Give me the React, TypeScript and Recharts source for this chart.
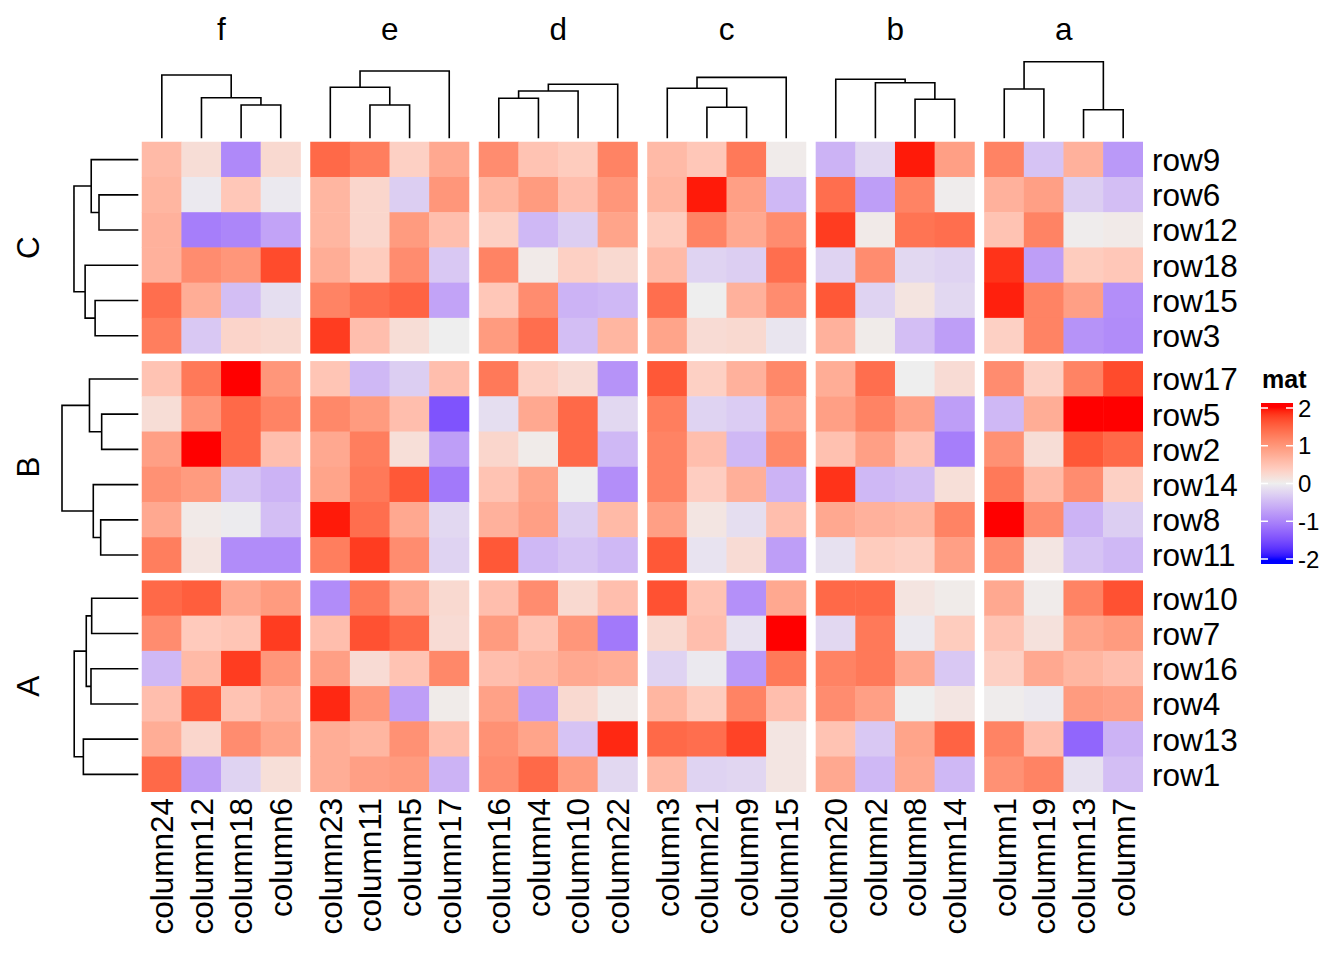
import React from 'react';
import { ComposedChart, Scatter, Line, XAxis, YAxis } from 'recharts';

// ---------------- data ----------------
const columnGroups = ['f', 'e', 'd', 'c', 'b', 'a'];
const columnLabels = [
  ['column24', 'column12', 'column18', 'column6'],
  ['column23', 'column11', 'column5', 'column17'],
  ['column16', 'column4', 'column10', 'column22'],
  ['column3', 'column21', 'column9', 'column15'],
  ['column20', 'column2', 'column8', 'column14'],
  ['column1', 'column19', 'column13', 'column7'],
];
const rowGroups = ['C', 'B', 'A'];
const rowLabels = [
  ['row9', 'row6', 'row12', 'row18', 'row15', 'row3'],
  ['row17', 'row5', 'row2', 'row14', 'row8', 'row11'],
  ['row10', 'row7', 'row16', 'row4', 'row13', 'row1'],
];

// values in display order (columns as in columnLabels, flattened)
const valuesC = [
  [0.6, 0.2, -0.95, 0.25, 1.45, 1.25, 0.35, 0.8, 1.1, 0.5, 0.4, 1.2, 0.6, 0.45, 1.3, 0.03, -0.55, -0.2, 1.95, 0.9, 1.2, -0.4, 0.7, -0.8],
  [0.65, -0.05, 0.45, -0.05, 0.65, 0.28, -0.3, 1.0, 0.65, 0.95, 0.55, 1.0, 0.65, 1.95, 0.9, -0.5, 1.4, -0.75, 1.2, 0.02, 0.7, 0.9, -0.3, -0.45],
  [0.7, -1.05, -0.98, -0.7, 0.65, 0.28, 0.95, 0.55, 0.35, -0.5, -0.3, 0.85, 0.4, 1.2, 0.8, 1.1, 1.8, 0.05, 1.35, 1.4, 0.5, 1.2, 0.02, 0.05],
  [0.7, 1.1, 1.0, 1.7, 0.75, 0.4, 1.1, -0.35, 1.2, 0.05, 0.35, 0.25, 0.6, -0.25, -0.3, 1.4, -0.25, 1.1, -0.2, -0.25, 1.85, -0.75, 0.4, 0.45],
  [1.4, 0.75, -0.45, -0.15, 1.2, 1.4, 1.5, -0.7, 0.45, 1.1, -0.55, -0.5, 1.4, 0.0, 0.7, 1.1, 1.6, -0.25, 0.12, -0.2, 1.93, 1.2, 0.9, -0.9],
  [1.25, -0.35, 0.3, 0.25, 1.8, 0.55, 0.2, 0.0, 0.95, 1.4, -0.45, 0.65, 0.85, 0.22, 0.25, -0.08, 0.7, 0.04, -0.45, -0.75, 0.35, 1.2, -0.85, -0.92],
];
const valuesB = [
  [0.5, 1.3, 2.2, 1.0, 0.48, -0.5, -0.3, 0.55, 1.3, 0.35, 0.22, -0.85, 1.6, 0.35, 0.7, 1.15, 0.75, 1.4, 0.0, 0.22, 1.1, 0.35, 1.2, 1.7],
  [0.2, 1.0, 1.45, 1.2, 1.15, 0.95, 0.55, -1.45, -0.15, 0.8, 1.45, -0.2, 1.25, -0.25, -0.32, 0.9, 0.9, 1.2, 0.88, -0.75, -0.5, 0.75, 2.2, 2.2],
  [0.9, 2.2, 1.45, 0.55, 0.8, 1.25, 0.18, -0.75, 0.28, 0.04, 1.45, -0.5, 1.2, 0.55, -0.5, 1.15, 0.52, 0.9, 0.5, -1.05, 1.05, 0.2, 1.6, 1.45],
  [1.05, 0.95, -0.4, -0.55, 0.85, 1.3, 1.6, -1.1, 0.5, 0.85, 0.0, -0.9, 1.2, 0.38, 0.72, -0.55, 1.85, -0.5, -0.45, 0.18, 1.3, 0.6, 1.1, 0.35],
  [0.8, 0.05, -0.03, -0.45, 1.95, 1.4, 0.8, -0.2, 0.7, 0.9, -0.3, 0.6, 0.9, 0.1, -0.15, 0.55, 0.8, 0.7, 0.65, 1.2, 2.2, 1.1, -0.55, -0.3],
  [1.25, 0.12, -0.92, -0.92, 1.25, 1.8, 1.1, -0.25, 1.6, -0.5, -0.4, -0.5, 1.6, -0.1, 0.22, -0.75, -0.12, 0.4, 0.35, 0.9, 1.1, 0.1, -0.4, -0.5],
];
const valuesA = [
  [1.45, 1.55, 0.8, 0.95, -0.92, 1.3, 0.8, 0.25, 0.55, 1.1, 0.25, 0.55, 1.65, 0.5, -0.88, 0.8, 1.45, 1.45, 0.12, 0.04, 0.8, 0.03, 1.2, 1.65],
  [1.1, 0.42, 0.48, 1.8, 0.55, 1.65, 1.45, 0.22, 0.95, 0.5, 1.0, -1.1, 0.25, 0.55, -0.12, 2.2, -0.2, 1.3, -0.05, 0.4, 0.5, 0.15, 0.85, 0.95],
  [-0.5, 0.6, 1.8, 1.0, 0.9, 0.22, 0.5, 1.15, 0.55, 0.65, 0.8, 0.75, -0.25, -0.05, -0.8, 1.3, 1.2, 1.3, 0.8, -0.35, 0.35, 0.8, 0.65, 0.55],
  [0.55, 1.6, 0.5, 0.7, 1.9, 1.0, -0.75, 0.04, 0.88, -0.75, 0.25, 0.05, 0.65, 0.4, 1.2, 0.55, 1.1, 0.9, 0.0, 0.1, 0.02, -0.05, 0.95, 0.9],
  [0.75, 0.28, 1.1, 0.85, 0.75, 0.65, 1.05, 0.55, 1.05, 0.85, -0.4, 1.9, 1.45, 1.4, 1.75, 0.1, 0.5, -0.35, 0.85, 1.5, 1.2, 0.55, -1.28, -0.55],
  [1.45, -0.75, -0.25, 0.18, 0.75, 0.9, 0.95, -0.55, 1.1, 1.45, 0.95, -0.2, 0.6, -0.25, -0.22, 0.1, 0.8, -0.5, 0.8, -0.5, 1.05, 1.2, -0.12, -0.45],
];
const valuesByGroup = [valuesC, valuesB, valuesA];

// dendrogram merges: [left node, right node, height]; leaves 0..n-1, merge k -> node n+k
const columnMerges = [
  [[2, 3, 0.435], [1, 4, 0.53], [0, 5, 0.826]],
  [[1, 2, 0.435], [0, 4, 0.666], [5, 3, 0.879]],
  [[0, 1, 0.522], [4, 2, 0.617], [5, 3, 0.705]],
  [[1, 2, 0.405], [0, 4, 0.653], [5, 3, 0.796]],
  [[2, 3, 0.509], [1, 4, 0.726], [0, 5, 0.77]],
  [[0, 1, 0.644], [2, 3, 0.373], [4, 5, 1.0]],
];
const rowMerges = [
  [[1, 2, 0.515], [0, 6, 0.617], [4, 5, 0.566], [3, 8, 0.697], [7, 9, 0.843]],
  [[1, 2, 0.48], [0, 6, 0.64], [4, 5, 0.493], [3, 8, 0.59], [7, 9, 1.0]],
  [[0, 1, 0.611], [2, 3, 0.62], [6, 7, 0.682], [4, 5, 0.72], [8, 9, 0.84]],
];

const legendTicks = [2, 1, 0, -1, -2];

// ---------------- layout ----------------
const W = 1344;
const H = 960;
const PLOT_LEFT = 56;
const HEAT_LEFT = 142;
const HEAT_RIGHT = 1143;
const PLOT_TOP = 50;
const HEAT_TOP = 142;
const HEAT_BOTTOM = 792;
const GAPX = 0.25;
const GAPY = 8 / 35.22;
const NX = 24 + 5 * GAPX;
const NY = 18 + 2 * GAPY;
const PXX = (HEAT_RIGHT - HEAT_LEFT) / NX;
const PXY = (HEAT_BOTTOM - HEAT_TOP) / NY;
const XMIN = -(HEAT_LEFT - PLOT_LEFT) / PXX;
const XMAX = NX;
const YMIN = -(HEAT_TOP - PLOT_TOP) / PXY;
const YMAX = NY;
const COL_BASE = -3.7 / PXY;
const COL_SCALE = (138.3 - 61.7) / PXY;
const ROW_BASE = -3.7 / PXX;
const ROW_SCALE = 76.3 / PXX;
const FS = 31.5;
const FONT = '"Liberation Sans", Arial, Helvetica, sans-serif';

const colX = (g: number, j: number) => g * (4 + GAPX) + j + 0.5;
const rowY = (g: number, i: number) => g * (6 + GAPY) + i + 0.5;

// ---------------- colour ramp (LAB) ----------------
const toLin = (c: number) => {
  const s = c / 255;
  return s <= 0.04045 ? s / 12.92 : Math.pow((s + 0.055) / 1.055, 2.4);
};
const fromLin = (c: number) => {
  const v = c <= 0.0031308 ? 12.92 * c : 1.055 * Math.pow(c, 1 / 2.4) - 0.055;
  return Math.round(Math.max(0, Math.min(1, v)) * 255);
};
const rgbToLab = (r: number, g: number, b: number) => {
  const R = toLin(r), G = toLin(g), B = toLin(b);
  const X = (0.4124 * R + 0.3576 * G + 0.1805 * B) / 0.95047;
  const Y = 0.2126 * R + 0.7152 * G + 0.0722 * B;
  const Z = (0.0193 * R + 0.1192 * G + 0.9505 * B) / 1.08883;
  const f = (t: number) => (t > 0.008856 ? Math.cbrt(t) : 7.787 * t + 16 / 116);
  const fx = f(X), fy = f(Y), fz = f(Z);
  return [116 * fy - 16, 500 * (fx - fy), 200 * (fy - fz)];
};
const labToHex = (L: number, a: number, b: number) => {
  const fy = (L + 16) / 116;
  const fx = fy + a / 500;
  const fz = fy - b / 200;
  const inv = (t: number) => (t * t * t > 0.008856 ? t * t * t : (t - 16 / 116) / 7.787);
  const X = inv(fx) * 0.95047, Y = inv(fy), Z = inv(fz) * 1.08883;
  const R = 3.2406 * X - 1.5372 * Y - 0.4986 * Z;
  const G = -0.9689 * X + 1.8758 * Y + 0.0415 * Z;
  const B = 0.0557 * X - 0.204 * Y + 1.057 * Z;
  const h = (v: number) => fromLin(v).toString(16).padStart(2, '0');
  return '#' + h(R) + h(G) + h(B);
};
const LAB_BLUE = rgbToLab(0, 0, 255);
const LAB_MID = rgbToLab(238, 238, 238);
const LAB_RED = rgbToLab(255, 0, 0);
const colorOf = (v: number) => {
  const c = Math.max(-2, Math.min(2, v));
  const [a, b, t] = c < 0 ? [LAB_BLUE, LAB_MID, (c + 2) / 2] : [LAB_MID, LAB_RED, c / 2];
  return labToHex(a[0] + (b[0] - a[0]) * t, a[1] + (b[1] - a[1]) * t, a[2] + (b[2] - a[2]) * t);
};

// ---------------- derived series ----------------
const cells: { x: number; y: number; v: number }[] = [];
valuesByGroup.forEach((rows, g) =>
  rows.forEach((vals, i) =>
    vals.forEach((v, c) => {
      cells.push({ x: colX(Math.floor(c / 4), c % 4), y: rowY(g, i), v });
    })
  )
);

const buildDendro = (merges: number[][], leaves: number[], kind: 'col' | 'row') => {
  const pos = [...leaves];
  const ht = leaves.map(() => 0);
  const pts: { x: number; y: number | null }[] = [];
  const mk = (p: number, h: number) =>
    kind === 'col' ? { x: p, y: COL_BASE - h * COL_SCALE } : { x: ROW_BASE - h * ROW_SCALE, y: p };
  merges.forEach(([a, b, h]) => {
    pts.push(mk(pos[a], ht[a]), mk(pos[a], h), mk(pos[b], h), mk(pos[b], ht[b]));
    pts.push({ x: kind === 'col' ? pos[b] : ROW_BASE, y: null });
    pos.push((pos[a] + pos[b]) / 2);
    ht.push(h);
  });
  return pts;
};

const colDendros = columnMerges.map((m, g) => buildDendro(m, [0, 1, 2, 3].map((j) => colX(g, j)), 'col'));
const rowDendros = rowMerges.map((m, g) => buildDendro(m, [0, 1, 2, 3, 4, 5].map((i) => rowY(g, i)), 'row'));

const colTicks = columnLabels.flatMap((grp, g) => grp.map((_, j) => colX(g, j)));
const colTickLabels = columnLabels.flat();
const rowTicks = rowLabels.flatMap((grp, g) => grp.map((_, i) => rowY(g, i)));
const rowTickLabels = rowLabels.flat();
const colGroupTicks = columnGroups.map((_, g) => g * (4 + GAPX) + 2);
const rowGroupTicks = rowGroups.map((_, g) => g * (6 + GAPY) + 3);

// ---------------- renderers ----------------
const renderCell = (p: any) => {
  const w = PXX + 0.5;
  const h = PXY + 0.5;
  return <rect x={p.cx - w / 2} y={p.cy - h / 2} width={w} height={h} fill={colorOf(p.payload.v)} stroke="none" />;
};

const BottomTick = (p: any) => {
  const bx = p.x + 0.36 * FS;
  const by = HEAT_BOTTOM + 6;
  return (
    <text x={bx} y={by} transform={`rotate(-90 ${bx} ${by})`} textAnchor="end" fontSize={FS} fontFamily={FONT} fill="#000">
      {colTickLabels[p.index]}
    </text>
  );
};
const RightTick = (p: any) => (
  <text x={HEAT_RIGHT + 9} y={p.y + 0.36 * FS} textAnchor="start" fontSize={FS} fontFamily={FONT} fill="#000">
    {rowTickLabels[p.index]}
  </text>
);
const TopTick = (p: any) => (
  <text x={p.x} y={40} textAnchor="middle" fontSize={FS} fontFamily={FONT} fill="#000">
    {columnGroups[p.index]}
  </text>
);
const LeftTick = (p: any) => (
  <text x={39} y={p.y} transform={`rotate(-90 39 ${p.y})`} textAnchor="middle" fontSize={FS} fontFamily={FONT} fill="#000">
    {rowGroups[p.index]}
  </text>
);

// legend geometry
const LEG_X = 1261;
const LEG_W = 32;
const LEG_Y0 = 403;
const LEG_Y1 = 564;
const legY = (v: number) => 483.5 - v * 37.75;
const gradStops = Array.from({ length: 41 }, (_, k) => 2.13 - (k * 4.26) / 40);

export default function App() {
  return (
    <div style={{ position: 'absolute', left: 0, top: 0, width: W, height: H, background: '#fff' }}>
      <ComposedChart width={W} height={H} margin={{ top: 0, right: 0, bottom: 0, left: 0 }}>
        <XAxis
          xAxisId="bottom"
          orientation="bottom"
          type="number"
          dataKey="x"
          domain={[XMIN, XMAX]}
          allowDataOverflow
          ticks={colTicks}
          interval={0}
          height={H - HEAT_BOTTOM}
          axisLine={false}
          tickLine={false}
          tick={<BottomTick />}
        />
        <XAxis
          xAxisId="top"
          orientation="top"
          type="number"
          dataKey="x"
          domain={[XMIN, XMAX]}
          allowDataOverflow
          ticks={colGroupTicks}
          interval={0}
          height={PLOT_TOP}
          axisLine={false}
          tickLine={false}
          tick={<TopTick />}
        />
        <YAxis
          yAxisId="right"
          orientation="right"
          type="number"
          dataKey="y"
          reversed
          domain={[YMIN, YMAX]}
          allowDataOverflow
          ticks={rowTicks}
          interval={0}
          width={W - HEAT_RIGHT}
          axisLine={false}
          tickLine={false}
          tick={<RightTick />}
        />
        <YAxis
          yAxisId="left"
          orientation="left"
          type="number"
          dataKey="y"
          reversed
          domain={[YMIN, YMAX]}
          allowDataOverflow
          ticks={rowGroupTicks}
          interval={0}
          width={PLOT_LEFT}
          axisLine={false}
          tickLine={false}
          tick={<LeftTick />}
        />
        <Scatter
          data={cells}
          xAxisId="bottom"
          yAxisId="right"
          dataKey="y"
          shape={renderCell}
          isAnimationActive={false}
        />
        {colDendros.map((d, g) => (
          <Line
            key={'c' + g}
            data={d}
            xAxisId="top"
            yAxisId="right"
            dataKey="y"
            type="linear"
            stroke="#000"
            strokeWidth={1.6}
            dot={false}
            activeDot={false}
            connectNulls={false}
            isAnimationActive={false}
          />
        ))}
        {rowDendros.map((d, g) => (
          <Line
            key={'r' + g}
            data={d}
            xAxisId="bottom"
            yAxisId="left"
            dataKey="y"
            type="linear"
            stroke="#000"
            strokeWidth={1.6}
            dot={false}
            activeDot={false}
            connectNulls={false}
            isAnimationActive={false}
          />
        ))}
      </ComposedChart>
      <svg width={W} height={H} style={{ position: 'absolute', left: 0, top: 0, pointerEvents: 'none' }}>
        <defs>
          <linearGradient id="matGrad" x1="0" y1="0" x2="0" y2="1">
            {gradStops.map((v, k) => (
              <stop key={k} offset={`${(k / 40) * 100}%`} stopColor={colorOf(v)} />
            ))}
          </linearGradient>
        </defs>
        <text x={1262} y={388} fontSize={25} fontWeight="bold" fontFamily={FONT} fill="#000">
          mat
        </text>
        <rect x={LEG_X} y={LEG_Y0} width={LEG_W} height={LEG_Y1 - LEG_Y0} fill="url(#matGrad)" />
        {legendTicks.map((v) => (
          <g key={v}>
            <line x1={LEG_X} x2={LEG_X + 7} y1={legY(v)} y2={legY(v)} stroke="#fff" strokeWidth={1.5} />
            <line x1={LEG_X + LEG_W - 7} x2={LEG_X + LEG_W} y1={legY(v)} y2={legY(v)} stroke="#fff" strokeWidth={1.5} />
            <text x={1298} y={legY(v) + 8.5} fontSize={24} fontFamily={FONT} fill="#000">
              {v}
            </text>
          </g>
        ))}
      </svg>
    </div>
  );
}
